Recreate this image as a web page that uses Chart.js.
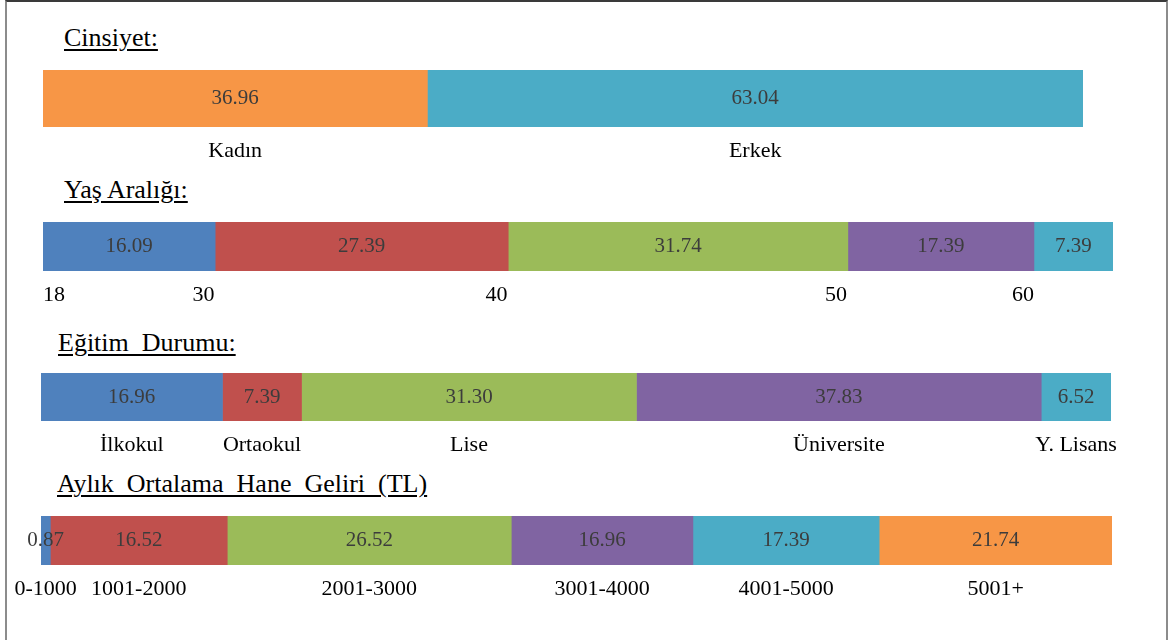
<!DOCTYPE html>
<html lang="tr">
<head>
<meta charset="utf-8">
<title>Katılımcı Profili</title>
<script src="https://cdn.jsdelivr.net/npm/chart.js@4.4.1/dist/chart.umd.min.js"></script>
<style>
  html, body { margin: 0; padding: 0; background: #fff; }
  body { position: relative; width: 1171px; height: 640px; overflow: hidden;
         font-family: "Liberation Serif", "Times New Roman", serif; }
  .frame { position: absolute; left: 5px; top: 0; width: 1159px; height: 680px;
           border-top: 2px solid #3a3a3a; border-left: 2px solid #8c8c8c; border-right: 2px solid #8c8c8c; }
  .title { position: absolute; font-size: 26px; line-height: 26px; color: #000; white-space: pre;
           text-decoration: underline; text-decoration-thickness: 2px; text-underline-offset: 3px; }
  canvas { position: absolute; left: 0; }
</style>
</head>
<body>
<div class="frame"></div>

<div class="title" style="left:64px; top:25px;">Cinsiyet:</div>
<div class="title" style="left:64px; top:177px;">Yaş Aralığı:</div>
<div class="title" style="left:58px; top:330px;">Eğitim  Durumu:</div>
<div class="title" style="left:57px; top:471px;">Aylık  Ortalama  Hane  Geliri  (TL)</div>

<canvas id="cinsiyet"></canvas>
<canvas id="yas"></canvas>
<canvas id="egitim"></canvas>
<canvas id="gelir"></canvas>

<script>
// Yüzdelik dağılımlar
const genderLabels = ['Kadın', 'Erkek'];
const genderValues = [36.96, 63.04];

const ageLabels = ['18', '30', '40', '50', '60'];
const ageValues = [16.09, 27.39, 31.74, 17.39, 7.39];

const eduLabels = ['İlkokul', 'Ortaokul', 'Lise', 'Üniversite', 'Y. Lisans'];
const eduValues = [16.96, 7.39, 31.30, 37.83, 6.52];

const incomeLabels = ['0-1000', '1001-2000', '2001-3000', '3001-4000', '4001-5000', '5001+'];
const incomeValues = [0.87, 16.52, 26.52, 16.96, 17.39, 21.74];

// Office renk paleti
const C = {
    blue: '#4F81BD',
    red: '#C0504D',
    green: '#9BBB59',
    purple: '#8064A2',
    teal: '#4BACC6',
    orange: '#F79646'
};

Chart.defaults.font.family = '"Liberation Serif", "Times New Roman", serif';

const LABEL_AREA = 50;
const AGE_LABEL_NUDGE = 1.1; // ara yaş etiketleri sınırın biraz solunda

// Segment ortasına yüzde değerini yazar
const segmentValues = {
    id: 'segmentValues',
    afterDatasetsDraw(chart) {
        const ctx = chart.ctx;
        ctx.save();
        ctx.font = '21px "Liberation Serif", "Times New Roman", serif';
        ctx.fillStyle = '#3c3c3c';
        ctx.textAlign = 'center';
        ctx.textBaseline = 'middle';
        chart.data.datasets.forEach((ds, i) => {
            chart.getDatasetMeta(i).data.forEach((bar, j) => {
                ctx.fillText(ds.data[j].toFixed(2), (bar.x + bar.base) / 2, bar.y);
            });
        });
        ctx.restore();
    }
};

function cumulative(values) {
    let sum = 0;
    return values.map(v => (sum += v));
}

function midpoints(values) {
    const ends = cumulative(values);
    return values.map((v, i) => ends[i] - v / 2);
}

function boundaries(values) {
    return [0].concat(cumulative(values).slice(0, values.length - 1));
}

// Tek satırlık yığılmış yatay çubuk
function stackedRow(id, box, values, colors, tickLabels, tickAt, align) {
    const canvas = document.getElementById(id);
    canvas.width = 1171;
    canvas.height = box.h + LABEL_AREA;
    canvas.style.top = box.top + 'px';

    return new Chart(canvas, {
        type: 'bar',
        data: {
            labels: [''],
            datasets: values.map((v, i) => ({
                data: [v],
                backgroundColor: colors[i],
                borderWidth: 0,
                barPercentage: 1,
                categoryPercentage: 1
            }))
        },
        options: {
            indexAxis: 'y',
            responsive: false,
            animation: false,
            events: [],
            layout: { padding: { left: box.left, right: 1171 - box.right, top: 0, bottom: 0 } },
            plugins: { legend: { display: false }, tooltip: { enabled: false } },
            scales: {
                x: {
                    type: 'linear',
                    stacked: true,
                    min: 0,
                    max: 100,
                    grid: { display: false, drawTicks: false },
                    border: { display: false },
                    afterBuildTicks(scale) {
                        scale.ticks = tickAt.map(v => ({ value: v }));
                    },
                    afterFit(scale) {
                        scale.height = LABEL_AREA;
                    },
                    ticks: {
                        autoSkip: false,
                        maxRotation: 0,
                        minRotation: 0,
                        align: align || 'center',
                        padding: 11,
                        color: '#000',
                        font: { size: 22 },
                        callback: (value, index) => tickLabels[index]
                    }
                },
                y: { stacked: true, display: false }
            }
        },
        plugins: [segmentValues]
    });
}

stackedRow('cinsiyet', { top: 70, h: 57, left: 43, right: 1083 },
    genderValues, [C.orange, C.teal], genderLabels, midpoints(genderValues));

const ageTicks = boundaries(ageValues).map((v, i) => (i === 0 ? v : v - AGE_LABEL_NUDGE));
ageTicks[ageTicks.length - 1] += AGE_LABEL_NUDGE;
stackedRow('yas', { top: 222, h: 49, left: 43, right: 1113 },
    ageValues, [C.blue, C.red, C.green, C.purple, C.teal], ageLabels, ageTicks, 'inner');

stackedRow('egitim', { top: 373, h: 48, left: 41, right: 1111 },
    eduValues, [C.blue, C.red, C.green, C.purple, C.teal], eduLabels, midpoints(eduValues));

stackedRow('gelir', { top: 516, h: 49, left: 41, right: 1112 },
    incomeValues, [C.blue, C.red, C.green, C.purple, C.teal, C.orange], incomeLabels, midpoints(incomeValues));
</script>
</body>
</html>
